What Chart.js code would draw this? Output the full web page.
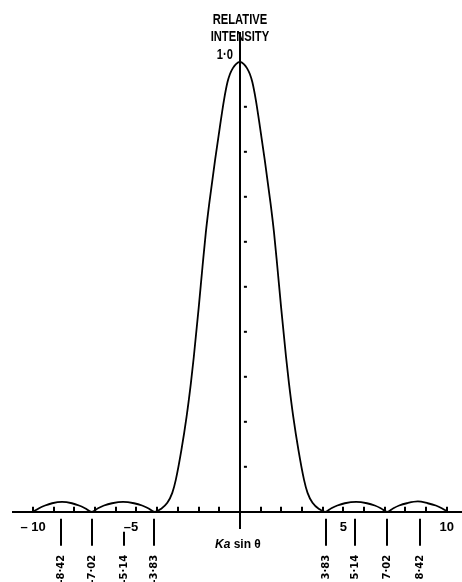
<!DOCTYPE html>
<html lang="en">
<head>
<meta charset="UTF-8">
<title>Relative intensity - Ka sin θ</title>
<script src="https://cdn.jsdelivr.net/npm/chart.js"></script>
<style>
    html, body { margin: 0; padding: 0; background: #fff; }
    #wrap { width: 462px; height: 582px; }
</style>
</head>
<body>
<div id="wrap"><canvas id="airyChart" width="462" height="582"></canvas></div>
<script>
    // curve: x in Ka sin θ, y relative intensity
    const curveX = [
        -10.0, -9.71, -9.42, -9.08, -8.60, -8.12, -7.78, -7.49, -7.16,
        -6.86, -6.57, -6.18, -5.65, -5.12, -4.73, -4.44, -4.11,
        -3.83, -3.51, -3.27, -3.10, -2.83, -2.58, -2.37, -2.23, -1.99, -1.81, -1.65, -1.48,
        -1.20, -0.97, -0.77, -0.60, -0.48, -0.34, -0.19, 0,
        0.19, 0.34, 0.48, 0.60, 0.77, 0.97, 1.20, 1.48, 1.65, 1.81, 1.99, 2.23, 2.37,
        2.58, 2.83, 3.10, 3.27, 3.51, 3.83, 4.12,
        4.42, 4.71, 5.07, 5.62, 6.14, 6.52, 6.81, 7.12,
        7.42, 7.70, 8.07, 8.60, 9.08, 9.47, 9.76, 10.05
    ];
    const curveY = [
        0, 0.008, 0.014, 0.019, 0.022, 0.019, 0.014, 0.008, 0,
        0.008, 0.014, 0.019, 0.022, 0.019, 0.014, 0.008, 0,
        0.006, 0.020, 0.042, 0.071, 0.137, 0.211, 0.286, 0.344, 0.455, 0.544, 0.620, 0.686,
        0.782, 0.855, 0.915, 0.955, 0.973, 0.986, 0.995, 1.0,
        0.995, 0.986, 0.973, 0.955, 0.915, 0.855, 0.782, 0.686, 0.620, 0.544, 0.455, 0.344, 0.286,
        0.211, 0.137, 0.071, 0.042, 0.020, 0.006, 0,
        0.008, 0.014, 0.019, 0.022, 0.019, 0.014, 0.008, 0,
        0.008, 0.014, 0.019, 0.023, 0.019, 0.014, 0.008, 0
    ];

    // axis ticks
    const xTickLabels = [-10, -5, 5, 10];
    const xMinorTicks = [-10, -9, -8, -7, -6, -5, -4, -3, -2, -1, 1, 2, 3, 4, 5, 6, 7, 8, 9, 10];
    const yMinorTicks = [0.1, 0.2, 0.3, 0.4, 0.5, 0.6, 0.7, 0.8, 0.9];

    // zero / maximum marks under the axis (where they sit in the picture) and their captions
    const zeroMarks = [-8.65, -7.16, -5.60, -4.14, 4.14, 5.56, 7.12, 8.70];
    const zeroLabels = ['-8·42', '-7·02', '-5·14', '-3·83', '3·83', '5·14', '7·02', '8·42'];

    // condensed bold text: no narrow face installed, so squeeze Liberation Sans
    function narrowText(ctx, text, cx, cy, align) {
        const squeeze = 0.8;
        ctx.save();
        ctx.font = 'bold 14px "Liberation Sans", sans-serif';
        ctx.textBaseline = 'middle';
        ctx.textAlign = align;
        ctx.translate(cx, cy);
        ctx.scale(squeeze, 1);
        ctx.fillText(text, 0, 0);
        ctx.restore();
    }

    // everything that is not the curve or the two axis lines
    const decorations = {
        id: 'decorations',
        afterDraw(chart) {
            const ctx = chart.ctx;
            const x = chart.scales.x;
            const y = chart.scales.y;
            const x0 = x.getPixelForValue(0);
            const y0 = y.getPixelForValue(0);
            const yTop = y.getPixelForValue(1);

            ctx.save();
            ctx.strokeStyle = '#000';
            ctx.fillStyle = '#000';
            ctx.lineWidth = 2;

            // small upward ticks on the baseline
            xMinorTicks.forEach(v => {
                const px = Math.round(x.getPixelForValue(v));
                ctx.beginPath();
                ctx.moveTo(px, y0);
                ctx.lineTo(px, y0 - 5);
                ctx.stroke();
            });

            // dashes right of the intensity axis
            yMinorTicks.forEach(v => {
                const py = y.getPixelForValue(v);
                ctx.fillRect(x0 + 4, py - 1, 3, 2);
            });

            // marks below the axis with rotated values
            ctx.font = 'bold 10px "DejaVu Sans", sans-serif';
            zeroMarks.forEach((v, i) => {
                const px = Math.round(x.getPixelForValue(v));
                const top = Math.abs(v + 5) < 0.8 ? y0 + 20 : y0 + 7;  // keep clear of the "-5" label
                ctx.beginPath();
                ctx.moveTo(px, top);
                ctx.lineTo(px, y0 + 34);
                ctx.stroke();

                ctx.save();
                ctx.translate(px, y0 + 43);
                ctx.rotate(-Math.PI / 2);
                ctx.textAlign = 'right';
                ctx.textBaseline = 'middle';
                ctx.fillText(zeroLabels[i], 0, 0);
                ctx.restore();
            });

            // axis caption
            narrowText(ctx, 'RELATIVE', x0, yTop - 42, 'center');
            narrowText(ctx, 'INTENSITY', x0, yTop - 25, 'center');
            narrowText(ctx, '1·0', x0 - 7, yTop - 7, 'right');

            // Ka sin θ
            const italic = 'italic bold 12px "Liberation Sans", sans-serif';
            const upright = 'bold 12px "Liberation Sans", sans-serif';
            ctx.textBaseline = 'middle';
            ctx.font = italic;
            const w1 = ctx.measureText('Ka').width;
            ctx.font = upright;
            const w2 = ctx.measureText(' sin θ').width;
            const startX = x0 - 2 - (w1 + w2) / 2;
            ctx.textAlign = 'left';
            ctx.font = italic;
            ctx.fillText('Ka', startX, y0 + 33);
            ctx.font = upright;
            ctx.fillText(' sin θ', startX + w1, y0 + 33);

            ctx.restore();
        }
    };

    const ctx = document.getElementById('airyChart').getContext('2d');
    new Chart(ctx, {
        type: 'line',
        data: {
            datasets: [{
                data: curveX.map((v, i) => ({ x: v, y: curveY[i] })),
                borderColor: '#000',
                borderWidth: 1.8,
                pointRadius: 0,
                fill: false,
                cubicInterpolationMode: 'monotone'
            }]
        },
        options: {
            responsive: false,
            animation: false,
            layout: { padding: { left: 13, right: 0, top: 33, bottom: 54 } },
            plugins: {
                legend: { display: false },
                tooltip: { enabled: false },
                title: { display: false }
            },
            scales: {
                x: {
                    type: 'linear',
                    position: { y: 0 },
                    min: -10.97,
                    max: 10.72,
                    afterBuildTicks: scale => {
                        scale.ticks = xTickLabels.map(v => ({ value: v }));
                    },
                    grid: { display: false, drawTicks: false },
                    border: { display: true, color: '#000', width: 2 },
                    ticks: {
                        color: '#000',
                        padding: 8,
                        maxRotation: 0,
                        autoSkip: false,
                        font: { family: '"Liberation Sans", sans-serif', size: 13, weight: 'bold' },
                        // the -5 sits a little left of its tick in the original
                        callback: v => v === -10 ? '– 10' : v === -5 ? '–5\u00a0\u00a0\u00a0' : String(v)
                    }
                },
                y: {
                    type: 'linear',
                    position: { x: 0 },
                    min: -0.036,
                    max: 1.064,
                    grid: { display: false, drawTicks: false },
                    border: { display: true, color: '#000', width: 2 },
                    ticks: { display: false }
                }
            }
        },
        plugins: [decorations]
    });
</script>
</body>
</html>
